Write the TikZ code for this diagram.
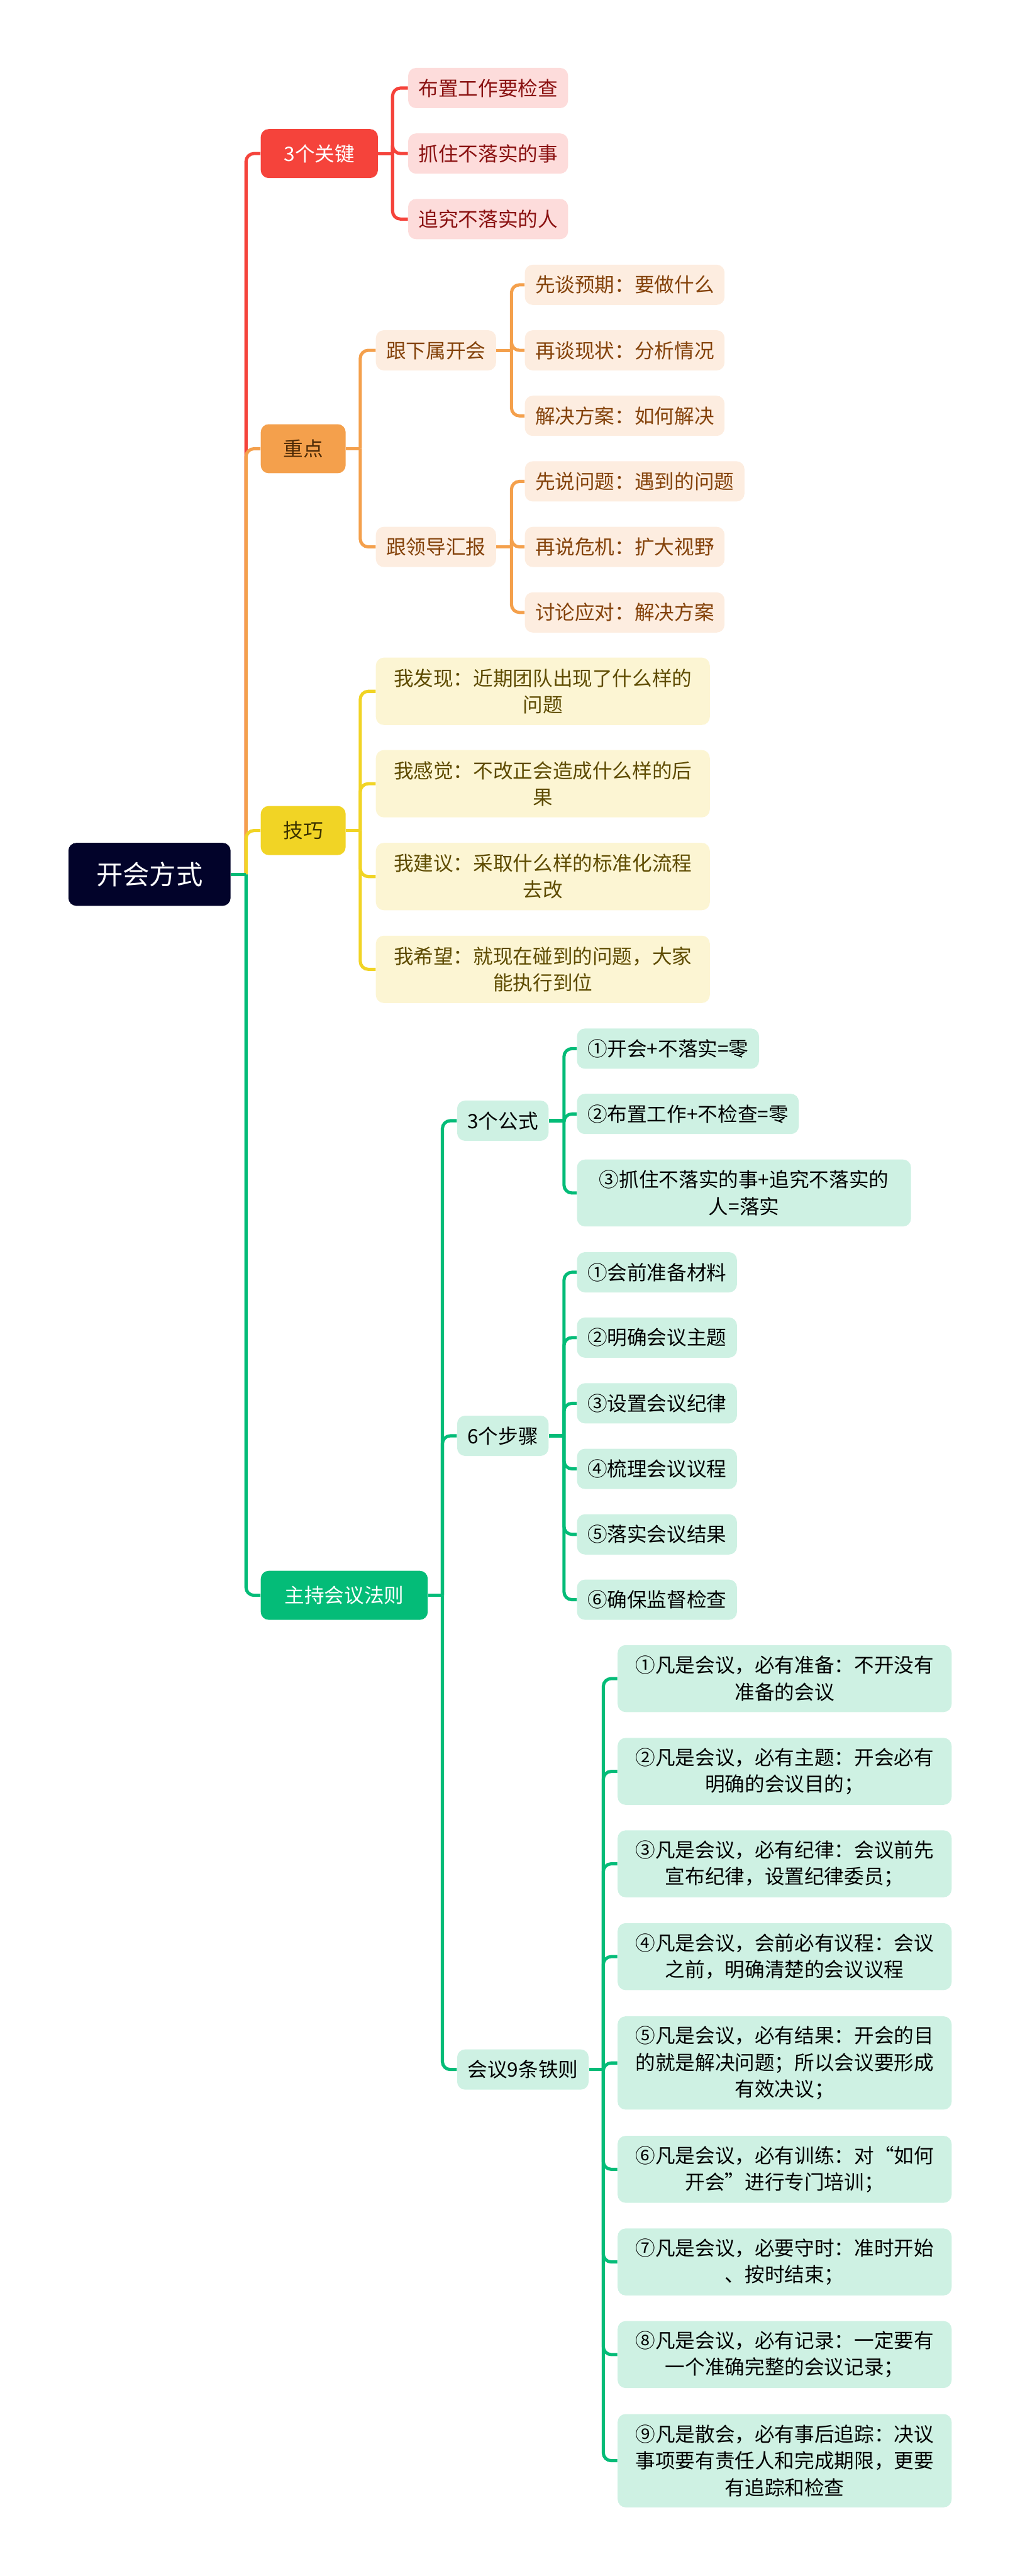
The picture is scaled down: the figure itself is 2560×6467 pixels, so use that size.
\documentclass[tikz,border=0pt]{standalone}
\usepackage{fontspec}
\setmainfont{Noto Sans CJK SC}
\definecolor{rootbg}{HTML}{02032A}
\definecolor{redmain}{HTML}{F5433B}
\definecolor{redleaf}{HTML}{FDDCDB}
\definecolor{redtext}{HTML}{8A1111}
\definecolor{orgmain}{HTML}{F4A04C}
\definecolor{orgleaf}{HTML}{FDEDE0}
\definecolor{orgtext}{HTML}{84420A}
\definecolor{orgdark}{HTML}{4D2A06}
\definecolor{ylwmain}{HTML}{F1D425}
\definecolor{ylwleaf}{HTML}{FCF5D3}
\definecolor{ylwtext}{HTML}{5E4B00}
\definecolor{ylwdark}{HTML}{3B3200}
\definecolor{grnmain}{HTML}{04BC78}
\definecolor{grnleaf}{HTML}{CEF1E3}
\begin{document}
\begin{tikzpicture}[x=0.01cm, y=-0.01cm,
    rootbox/.style={fill=rootbg, text=white, rounded corners=0.2cm, anchor=west,
      font=\fontsize{19pt}{23pt}\selectfont, minimum width=4.07cm, minimum height=1.58cm},
    mainbox/.style={rounded corners=0.2cm, anchor=west, inner xsep=0pt,
      font=\fontsize{14.2pt}{19pt}\selectfont, minimum height=1.23cm},
    subbox/.style={rounded corners=0.2cm, anchor=west, inner xsep=0.26cm,
      font=\fontsize{14.2pt}{19pt}\selectfont, minimum height=1.01cm},
    wrapbox/.style={subbox, text width=7.86cm, align=center},
    link/.style={line width=0.08cm, rounded corners=0.2cm}
  ]
  \useasboundingbox (0,0) rectangle (2560,6467);
  \node[rootbox] (root) at (171,2195) {开会方式};
  \coordinate (trunk) at ([xshift=0.38cm]root.east);
  \foreach \nm/\txt/\y/\w/\fc/\tc in {
    key/3个关键/385.5/2.94cm/redmain/white,
    focus/重点/1126.5/2.13cm/orgmain/orgdark,
    skill/技巧/2085/2.13cm/ylwmain/ylwdark,
    host/主持会议法则/4005/4.19cm/grnmain/white%
  }{
    \node[mainbox, fill=\fc, text=\tc, minimum width=\w] (\nm) at (654,\y) {\txt};
  }
  \foreach \nm/\txt/\y in {meetsub/跟下属开会/879.5, reportup/跟领导汇报/1373}
    \node[subbox, fill=orgleaf, text=orgtext, minimum width=2.98cm] (\nm) at (943,\y) {\txt};
  \foreach \nm/\txt/\y/\w in {
    formula/3个公式/2813.5/2.27cm,
    steps/6个步骤/3604.5/2.27cm,
    rules/会议9条铁则/5195.5/3.30cm%
  }
    \node[subbox, fill=grnleaf, minimum width=\w] (\nm) at (1147,\y) {\txt};
  \foreach \i/\txt/\y in {1/布置工作要检查/221, 2/抓住不落实的事/385.5, 3/追究不落实的人/550}
    \node[subbox, fill=redleaf, text=redtext] (key-\i) at (1024,\y) {\txt};
  \foreach \i/\txt/\y in {1/先谈预期：要做什么/715, 2/再谈现状：分析情况/879.5, 3/解决方案：如何解决/1044}
    \node[subbox, fill=orgleaf, text=orgtext] (meetsub-\i) at (1317,\y) {\txt};
  \foreach \i/\txt/\y in {1/先说问题：遇到的问题/1208.5, 2/再说危机：扩大视野/1373, 3/讨论应对：解决方案/1537.5}
    \node[subbox, fill=orgleaf, text=orgtext] (reportup-\i) at (1317,\y) {\txt};
  \foreach \i/\txt/\y in {
    1/我发现：近期团队出现了什么样的\\问题/1735.5,
    2/我感觉：不改正会造成什么样的后\\果/1967.5,
    3/我建议：采取什么样的标准化流程\\去改/2200.5,
    4/我希望：就现在碰到的问题，大家\\能执行到位/2433.5%
  }
    \node[wrapbox, fill=ylwleaf, text=ylwtext, minimum height=1.69cm] (skill-\i) at (943,\y) {\txt};
  \node[subbox, fill=grnleaf] (formula-1) at (1448,2632.5) {①开会+不落实=零};
  \node[subbox, fill=grnleaf] (formula-2) at (1448,2796.5) {②布置工作+不检查=零};
  \node[wrapbox, fill=grnleaf, minimum height=1.68cm] (formula-3) at (1448,2995) {③抓住不落实的事+追究不落实的\\人=落实};
  \foreach \i/\txt/\y in {
    1/①会前准备材料/3194, 2/②明确会议主题/3358, 3/③设置会议纪律/3523,
    4/④梳理会议议程/3687.5, 5/⑤落实会议结果/3852, 6/⑥确保监督检查/4016%
  }
    \node[subbox, fill=grnleaf] (steps-\i) at (1448,\y) {\txt};
  \foreach \i/\txt/\y/\h in {
    1/①凡是会议，必有准备：不开没有\\准备的会议/4214/1.68cm,
    2/②凡是会议，必有主题：开会必有\\明确的会议目的；/4447/1.68cm,
    3/③凡是会议，必有纪律：会议前先\\宣布纪律，设置纪律委员；/4679/1.68cm,
    4/④凡是会议，会前必有议程：会议\\之前，明确清楚的会议议程/4912/1.68cm,
    5/⑤凡是会议，必有结果：开会的目\\的就是解决问题；所以会议要形成\\有效决议；/5179/2.34cm,
    6/⑥凡是会议，必有训练：对“如何\\开会”进行专门培训；/5446/1.68cm,
    7/⑦凡是会议，必要守时：准时开始\\、按时结束；/5678.5/1.68cm,
    8/⑧凡是会议，必有记录：一定要有\\一个准确完整的会议记录；/5911/1.68cm,
    9/⑨凡是散会，必有事后追踪：决议\\事项要有责任人和完成期限，更要\\有追踪和检查/6177.5/2.34cm%
  }
    \node[wrapbox, fill=grnleaf, minimum height=\h] (rules-\i) at (1550,\y) {\txt};
  \draw[link, redmain] (trunk) |- (key.west);
  \draw[link, orgmain] (trunk) |- (focus.west);
  \draw[link, ylwmain] (trunk) |- (skill.west);
  \draw[link, grnmain] (trunk) |- (host.west);
  \draw[link, grnmain] (root.east) -- (trunk);
  \coordinate (keybar) at ([xshift=0.36cm]key.east);
  \draw[link, redmain] (key.east) -- (keybar);
  \foreach \i in {1,2,3}
    \draw[link, redmain] (keybar) |- (key-\i.west);
  \coordinate (focusbar) at ([xshift=0.36cm]focus.east);
  \draw[link, orgmain] (focus.east) -- (focusbar);
  \foreach \nm in {meetsub, reportup}{
    \draw[link, orgmain] (focusbar) |- (\nm.west);
    \coordinate (\nm bar) at ([xshift=0.38cm]\nm.east);
    \draw[link, orgmain] (\nm.east) -- (\nm bar);
    \foreach \i in {1,2,3}
      \draw[link, orgmain] (\nm bar) |- (\nm-\i.west);
  }
  \coordinate (skillbar) at ([xshift=0.36cm]skill.east);
  \draw[link, ylwmain] (skill.east) -- (skillbar);
  \foreach \i in {1,...,4}
    \draw[link, ylwmain] (skillbar) |- (skill-\i.west);
  \coordinate (hostbar) at ([xshift=0.36cm]host.east);
  \draw[link, grnmain] (host.east) -- (hostbar);
  \foreach \nm/\n/\dx in {formula/3/0.38cm, steps/6/0.38cm, rules/9/0.36cm}{
    \draw[link, grnmain] (hostbar) |- (\nm.west);
    \coordinate (\nm bar) at ([xshift=\dx]\nm.east);
    \draw[link, grnmain] (\nm.east) -- (\nm bar);
    \foreach \i in {1,...,\n}
      \draw[link, grnmain] (\nm bar) |- (\nm-\i.west);
  }
\end{tikzpicture}
\end{document}
